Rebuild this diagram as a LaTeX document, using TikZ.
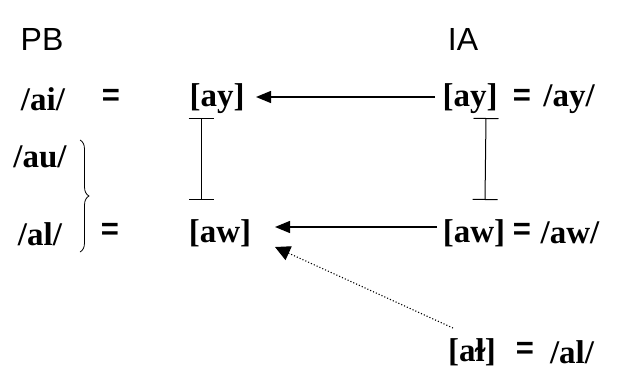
\documentclass[tikz,border=0pt]{standalone}
\usepackage{fontspec}
\setmainfont{Liberation Serif}
\newfontfamily\langfont{Liberation Sans}
\usetikzlibrary{arrows.meta,decorations.pathreplacing,positioning}

\begin{document}
\begin{tikzpicture}[x=1pt,y=-1pt,
    ipa/.style={font=\fontsize{33}{36}\selectfont\bfseries, inner sep=0pt},
    eq/.style={font=\fontsize{31}{34}\selectfont\langfont\bfseries, inner sep=0pt},
    lang/.style={font=\fontsize{32}{35}\selectfont\langfont, inner sep=0pt},
    soundshift/.style={-{Triangle[length=15pt,width=12pt]}, line width=1.3pt},
    merge/.style={-{Triangle[length=15pt,width=15pt]}, dotted, line width=1.1pt},
    ibar/.style={{Bar[width=25pt]}-{Bar[width=25pt]}, line width=1pt}]
    \useasboundingbox (0,0) rectangle (618,369);
    \node[lang] (pb) at (42,39) {PB};
    \node[lang] (ia) at (463,39) {IA};
    % top row
    \node[ipa] (ai) at (43,99) {/ai/};
    \node[eq] (eqai) at (111,97) {=};
    \node[ipa] (ayL) at (217,99) {[ay]};
    \node[ipa] (ayR) at (470,99) {[ay]};
    \node[eq] (eqay) at (522,97) {=};
    \node[ipa] (ay) at (569,99) {/ay/};
    % bottom row
    \node[ipa] (au) at (40,157) {/au/};
    \node[ipa] (al) at (40,234) {/al/};
    \node[eq] (eqal) at (110,231) {=};
    \node[ipa] (awL) at (220,233) {[aw]};
    \node[ipa] (awR) at (474,233) {[aw]};
    \node[eq] (eqaw) at (522,231) {=};
    \node[ipa] (aw) at (570,233) {/aw/};
    % dark l
    \node[ipa] (adark) at (472,352) {[aɫ]};
    \node[eq] (eqdark) at (525,350) {=};
    \node[ipa] (aldark) at (572,352) {/al/};

    \draw[decorate, decoration={brace, amplitude=9pt}, line width=0.8pt] (80,140) -- (80,252);
    \draw[soundshift] ([xshift=-35pt,yshift=2pt]ayR.center) -- ([xshift=39pt,yshift=2pt]ayL.center);
    \draw[soundshift] ([xshift=-37pt,yshift=6pt]awR.center) -- ([xshift=55pt,yshift=6pt]awL.center);
    \draw[merge] ([xshift=-19pt,yshift=24pt]adark.center) -- ([xshift=55pt,yshift=-14pt]awL.center);
    \draw[ibar] ([xshift=-16pt,yshift=-19pt]ayL.center) -- ([xshift=-19pt,yshift=33pt]awL.center);
    \draw[ibar] ([xshift=16pt,yshift=-19pt]ayR.center) -- ([xshift=11pt,yshift=33pt]awR.center);
\end{tikzpicture}
\end{document}
